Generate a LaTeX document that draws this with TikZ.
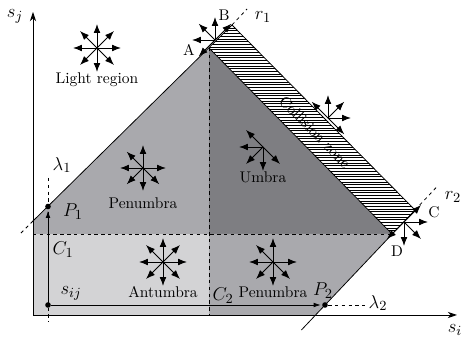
\documentclass[tikz,border=0pt]{standalone}
\usetikzlibrary{arrows.meta}
\definecolor{penum}{RGB}{169,169,173}
\definecolor{umbr}{RGB}{126,126,130}
\definecolor{antum}{RGB}{211,211,213}
\newcommand\arrowstar[3]{\foreach \a in {#3} \draw[stararrow] (#1) -- ++(-\a:#2);}
\begin{document}
\begin{tikzpicture}[x=0.645pt,y=-0.645pt,
  stararrow/.style={-{Latex[length=5.8pt,width=4.4pt]}, line width=0.6pt},
  axisline/.style={-{Stealth[length=6pt,width=4pt]}, line width=0.6pt},
  edge/.style={line width=0.5pt},
  dashline/.style={line width=0.5pt, dash pattern=on 2.2pt off 2.2pt},
  smallarrow/.style={-{Latex[length=4.5pt,width=3pt]}, line width=0.5pt},
  dot/.style={circle, fill, inner sep=0pt, minimum size=3.6pt},
  mlabel/.style={font=\fontsize{13}{15}\selectfont, inner sep=0pt},
  letter/.style={font=\fontsize{10}{12}\selectfont, inner sep=0pt},
  region/.style={font=\normalsize, inner sep=0pt}]
\useasboundingbox (0,0) rectangle (466,341);
% key points
\coordinate (O) at (33,315);
\coordinate (L0) at (33,221);
\coordinate (A) at (209,48);
\coordinate (Bc) at (232,25);
\coordinate (Cc) at (415,210);
\coordinate (Dc) at (392,234);
\coordinate (Lm) at (33,234);
\coordinate (Mm) at (209,234);
\coordinate (Mb) at (209,315);
\coordinate (R2b) at (315.6,315);
\coordinate (R2end) at (301.4,330);
\coordinate (R2top) at (437.6,186);
\coordinate (R1top) at (247,9);
\coordinate (R1low) at (20,234);
\coordinate (SjTop) at (33,12);
\coordinate (SiEnd) at (457,315);
\coordinate (L1top) at (48,178);
\coordinate (L1low) at (48,322);
\coordinate (L2end) at (365,305);
% regions
\fill[penum] (Lm) -- (L0) -- (A) -- (Mm) -- cycle;
\fill[umbr] (A) -- (Dc) -- (Mm) -- cycle;
\fill[antum] (Lm) -- (Mm) -- (Mb) -- (O) -- cycle;
\fill[penum] (Mm) -- (Dc) -- (R2b) -- (Mb) -- cycle;
\begin{scope}
  \clip (A) -- (Bc) -- (Cc) -- (Dc) -- cycle;
  \fill[white] (A) -- (Bc) -- (Cc) -- (Dc) -- cycle;
  \foreach \y in {20,22.7,...,240} \draw[line width=0.45pt] (200,\y) -- (430,\y);
\end{scope}
% boundaries
\draw[edge] (L0) -- (Bc);
\draw[dashline] (Bc) -- (R1top);
\draw[dashline] (L0) -- (R1low);
\draw[edge] (A) -- (Dc);
\draw[edge] (Bc) -- (Cc);
\draw[edge] (R2end) -- (Cc);
\draw[dashline] (Cc) -- (R2top);
\draw[dashline] (A) -- (Mb);
\draw[dashline] (Lm) -- (Dc);
% axes
\draw[axisline] (O) -- (SjTop);
\draw[axisline] (O) -- (SiEnd);
% lambda lines and points
\draw[dashline] (L1top) -- (L1low);
\node[dot] (sij) at (48,305) {};
\node[dot] (P1) at (48,206.5) {};
\node[dot] (P2) at (325,305) {};
\draw[dashline] (P2) -- (L2end);
\draw[smallarrow, shorten >=0.8pt] (sij) -- (P1);
\draw[smallarrow, shorten >=0.8pt] (sij) -- (P2);
% arrow stars
\coordinate (sLight) at (97,48);
\coordinate (sPen1) at (143,168);
\coordinate (sUmb) at (263,147);
\coordinate (sCol) at (328,118);
\coordinate (sAnt) at (163,262);
\coordinate (sPen2) at (273,262);
\coordinate (sAB) at (215,40);
\coordinate (sCD) at (404,222);
\arrowstar{sLight}{24}{0,45,90,135,180,225,270,315}
\arrowstar{sPen1}{23}{0,90,135,180,225,270,315}
\arrowstar{sUmb}{24}{135,180,225,270,315}
\arrowstar{sCol}{23}{0,45,90,135,315}
\arrowstar{sAnt}{24}{0,45,90,135,180,225,270,315}
\arrowstar{sPen2}{24}{0,90,135,180,225,270,315}
\arrowstar{sAB}{23}{45,90,135,180,225}
\arrowstar{sCD}{24}{0,45,225,270,315}
% labels
\node[mlabel] (lsj) at (15,16) {$s_j$};
\node[mlabel] (lsi) at (455,330) {$s_i$};
\node[mlabel] (lr1) at (263,17) {$r_1$};
\node[mlabel] (lr2) at (453,197) {$r_2$};
\node[mlabel] (ll1) at (62,165) {$\lambda_1$};
\node[mlabel] (ll2) at (378,303) {$\lambda_2$};
\node[mlabel] (lP1) at (73,212) {$P_1$};
\node[mlabel] (lP2) at (323,291) {$P_2$};
\node[mlabel] (lC1) at (63,250) {$C_1$};
\node[mlabel] (lC2) at (223,296) {$C_2$};
\node[mlabel] (lsij) at (71,293) {$s_{ij}$};
\node[letter] (lA) at (189,50) {A};
\node[letter] (lB) at (224,15) {B};
\node[letter] (lC) at (434,212) {C};
\node[letter] (lD) at (397,251) {D};
\node[region] (tLight) at (97,80) {Light region};
\node[region] (tPen1) at (143,203) {Penumbra};
\node[region] (tUmb) at (263,177) {Umbra};
\node[region, rotate=-45.3] (tCol) at (315,132) {Collision zone};
\node[region] (tAnt) at (163,292) {Antumbra};
\node[region] (tPen2) at (273,292) {Penumbra};
\end{tikzpicture}
\end{document}
